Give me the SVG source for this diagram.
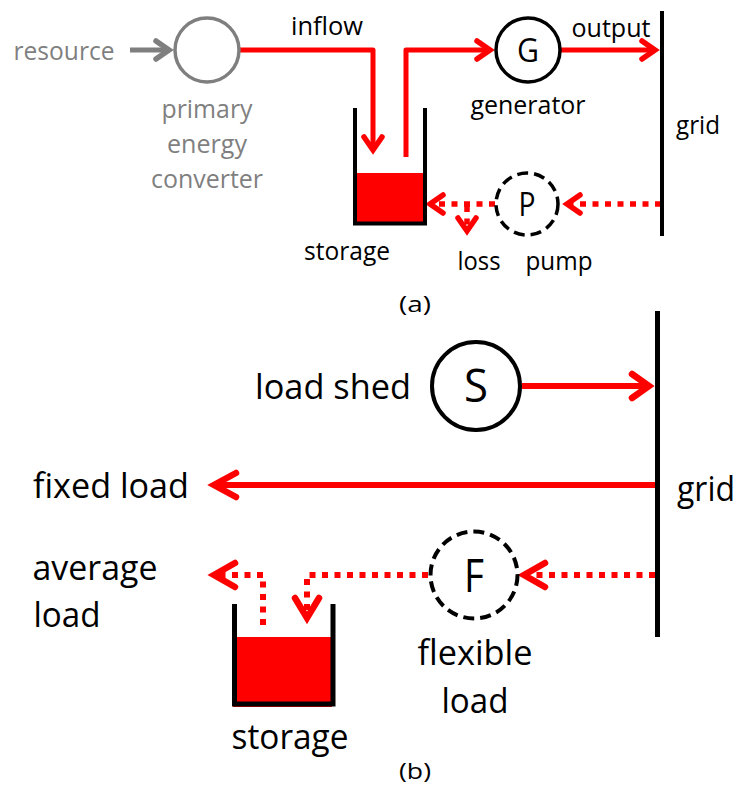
<svg xmlns="http://www.w3.org/2000/svg" width="740" height="787" viewBox="0 0 740 787">
<style>
text{font-family:"Open Sans","Noto Sans",sans-serif;fill:#000;text-anchor:middle}
.s{font-size:25px}.l{font-size:35px}.g{fill:#7f7f7f}.c{font-size:22px}
.n{fill:#fff;stroke:#000;stroke-width:3.5}.d{stroke-dasharray:11 6}
.r{fill:none;stroke:#f00;stroke-width:5;stroke-linejoin:round}
.r2{fill:none;stroke:#f00;stroke-width:6}
.dot{stroke-dasharray:6 6.5}
.h{fill:none;stroke:#f00;stroke-width:5.5;stroke-linecap:round;stroke-linejoin:miter}
.hb{fill:none;stroke:#f00;stroke-width:6.5;stroke-linecap:round;stroke-linejoin:miter}
</style>
<g id="connectors">
<path d="M130 50H170" fill="none" stroke="#7f7f7f" stroke-width="5"/>
<path d="M156 41L169 50L156 59" fill="none" stroke="#7f7f7f" stroke-width="5.5" stroke-linecap="round"/>
<path class="r" d="M240 50H373V150"/><path class="h" d="M364 137L373 150L382 137"/>
<path class="r" d="M406 157V50H490"/><path class="h" d="M477 41L490 50L477 59"/>
<path class="r" d="M561 50H655"/><path class="h" d="M642 41L655 50L642 59"/>
<path class="r dot" style="stroke-width:5.500" d="M661 204H568"/><path class="h" d="M580 195L567 204L580 213"/>
<path class="r dot" style="stroke-width:5.500" d="M495 204H431"/><path class="h" d="M443 195L430 204L443 213"/>
<path class="r dot" style="stroke-width:5.500" d="M467 206V230"/><path class="h" d="M458 218L467 231L476 218"/>
<path class="r2" d="M522 386H648"/><path class="hb" d="M632 374L649 386L632 398"/>
<path class="r2" d="M655 485H215"/><path class="hb" d="M236 473L214 485L236 497"/>
<path class="r2 dot" d="M655 575H526"/><path class="hb" d="M545 563L524 575L545 587"/>
<path class="r2 dot" d="M428 575H307V616"/><path class="hb" d="M295 598L307 618L319 598"/>
<path class="r2 dot" d="M263 625V575H216"/><path class="hb" d="M235 563L214 575L235 587"/>
</g>
<g id="converter"><circle cx="207" cy="50" r="32" fill="#fff" stroke="#7f7f7f" stroke-width="3.500"/>
<text class="s g" x="64" y="60" textLength="101" lengthAdjust="spacingAndGlyphs">resource</text>
<text class="s g" x="207" y="118" textLength="91" lengthAdjust="spacingAndGlyphs">primary</text>
<text class="s g" x="207" y="153" textLength="80" lengthAdjust="spacingAndGlyphs">energy</text>
<text class="s g" x="207" y="188" textLength="112" lengthAdjust="spacingAndGlyphs">converter</text></g>
<g id="generator"><circle class="n" cx="528" cy="50" r="32"/>
<text x="528" y="62" style="font-size:33px" textLength="22" lengthAdjust="spacingAndGlyphs">G</text>
<text class="s" x="528" y="114" textLength="115" lengthAdjust="spacingAndGlyphs">generator</text></g>
<g id="pump"><circle class="n d" cx="527" cy="204" r="31"/>
<text x="527" y="216" style="font-size:33px" textLength="17" lengthAdjust="spacingAndGlyphs">P</text>
<text class="s" x="559" y="270" textLength="67" lengthAdjust="spacingAndGlyphs">pump</text></g>
<g id="grid-a"><rect x="660" y="11" width="4" height="225"/><text class="s" x="698" y="134" textLength="44" lengthAdjust="spacingAndGlyphs">grid</text></g>
<g id="storage-a"><rect x="355" y="173" width="70" height="49" fill="#f00"/>
<path d="M355 108V223.500H425V108" fill="none" stroke="#000" stroke-width="4"/>
<text class="s" x="347" y="260" textLength="86" lengthAdjust="spacingAndGlyphs">storage</text></g>
<g id="labels-a">
<text class="s" x="327" y="35" textLength="72" lengthAdjust="spacingAndGlyphs">inflow</text>
<text class="s" x="611" y="37" textLength="79" lengthAdjust="spacingAndGlyphs">output</text>
<text class="s" x="479" y="270" textLength="43" lengthAdjust="spacingAndGlyphs">loss</text>
<text class="c" x="415" y="312" textLength="32" lengthAdjust="spacingAndGlyphs">(a)</text></g>
<g id="shed"><circle class="n" cx="476" cy="386" r="44" style="stroke-width:4"/>
<text x="476" y="402" style="font-size:45px" textLength="24" lengthAdjust="spacingAndGlyphs">S</text>
<text class="l" x="333" y="399" textLength="156" lengthAdjust="spacingAndGlyphs">load shed</text></g>
<g id="flexible"><circle class="n d" cx="474" cy="575" r="43.500" style="stroke-width:4"/>
<text x="474" y="592" style="font-size:45px" textLength="20" lengthAdjust="spacingAndGlyphs">F</text>
<text class="l" x="475" y="665" textLength="115" lengthAdjust="spacingAndGlyphs">flexible</text>
<text class="l" x="475" y="713" textLength="67" lengthAdjust="spacingAndGlyphs">load</text></g>
<g id="grid-b"><rect x="655" y="311" width="5" height="326"/><text class="l" x="706" y="501" textLength="58" lengthAdjust="spacingAndGlyphs">grid</text></g>
<g id="storage-b"><rect x="233" y="637" width="99" height="70" fill="#f00"/>
<path d="M234.500 604V704H333V604" fill="none" stroke="#000" stroke-width="5"/>
<text class="l" x="290" y="749" textLength="117" lengthAdjust="spacingAndGlyphs">storage</text></g>
<g id="labels-b">
<text class="l" x="111" y="498" textLength="156" lengthAdjust="spacingAndGlyphs">fixed load</text>
<text class="l" x="95" y="580" textLength="125" lengthAdjust="spacingAndGlyphs">average</text>
<text class="l" x="67" y="627" textLength="67" lengthAdjust="spacingAndGlyphs">load</text>
<text class="c" x="415" y="779" textLength="32" lengthAdjust="spacingAndGlyphs">(b)</text></g>
</svg>
